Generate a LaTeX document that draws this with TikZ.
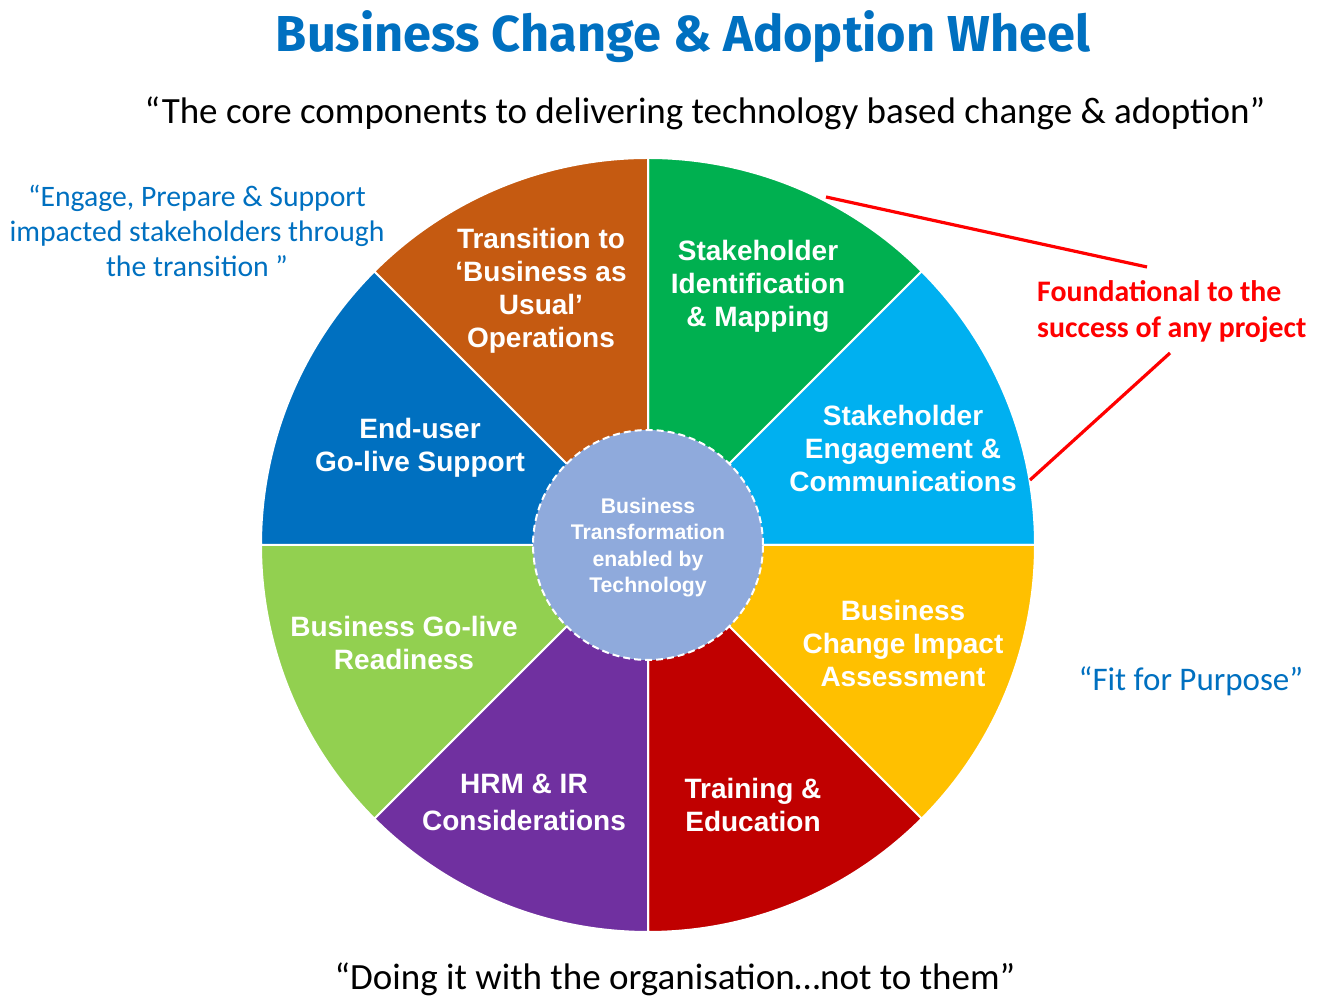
\documentclass[tikz,border=0pt]{standalone}
\usepackage{fontspec}
\setmainfont{Carlito}
\newfontfamily\arialf{Liberation Sans}
\newfontfamily\firaf{Fira Sans}
\definecolor{cgreen}{RGB}{0,176,80}
\definecolor{cltblue}{RGB}{0,176,240}
\definecolor{camber}{RGB}{255,192,0}
\definecolor{cdred}{RGB}{192,0,0}
\definecolor{cpurple}{RGB}{112,48,160}
\definecolor{clgreen}{RGB}{146,208,80}
\definecolor{cblue}{RGB}{0,112,192}
\definecolor{corange}{RGB}{197,90,17}
\definecolor{chub}{RGB}{143,170,220}
\definecolor{cred}{RGB}{255,0,0}
\tikzset{
  seglabel/.style={text=white, align=center, font=\arialf\bfseries\fontsize{28}{33}\selectfont, inner sep=0pt},
  wedge/.style={draw=white, line width=2pt},
  bluequote/.style={text=cblue, align=center, font=\fontsize{29.7}{35}\selectfont, inner sep=0pt},
  blackquote/.style={text=black, align=center, font=\fontsize{37}{42}\selectfont, inner sep=0pt},
  redlink/.style={draw=cred, line width=3.2pt}
}
\begin{document}
\begin{tikzpicture}[x=1pt,y=1pt]
\useasboundingbox (0,0) rectangle (1344,1008);
\coordinate (c) at (648,463);
\def\R{387}
% wedges
\foreach \a/\b/\col in {90/45/cgreen,45/0/cltblue,0/-45/camber,-45/-90/cdred,-90/-135/cpurple,-135/-180/clgreen,180/135/cblue,135/90/corange}{
  \filldraw[wedge, fill=\col] (c) -- ++(\a:\R) arc[start angle=\a, end angle=\b, radius=\R] -- cycle;
}
% hub
\node[circle, minimum size=230pt, fill=chub, draw=white, line width=2pt, dash pattern=on 7pt off 4pt, inner sep=0pt] (hub) at (c) {};
\node[text=white, align=center, font=\arialf\bfseries\fontsize{21.2}{26.5}\selectfont, inner sep=0pt] (hubtext) at (648,460.5) {Business\\Transformation\\enabled by\\Technology};
% segment labels
\node[seglabel] (sim) at (758,722) {Stakeholder\\Identification\\\& Mapping};
\node[seglabel] (sec) at (903,559) {Stakeholder\\Engagement \&\\Communications};
\node[seglabel] (bcia) at (903,364) {Business\\Change Impact\\Assessment};
\node[seglabel] (te) at (753,203) {Training \&\\Education};
\node[seglabel, font=\arialf\bfseries\fontsize{28}{37}\selectfont] (hrm) at (524,206) {HRM \& IR\\Considerations};
\node[seglabel] (bgr) at (404,364.5) {Business Go-live\\Readiness};
\node[seglabel] (egs) at (420,560) {End-user\\Go-live Support};
\node[seglabel] (tbau) at (541,717.5) {Transition to\\‘Business as\\Usual’\\Operations};
% titles
\node[text=cblue, font=\firaf\bfseries\fontsize{50.5}{54}\selectfont, inner sep=0pt] (title) at (683,971) {Business Change \& Adoption Wheel};
\node[blackquote] (sub) at (705,895) {“The core components to delivering technology based change \& adoption”};
\node[blackquote] (bottom) at (675,28.5) {“Doing it with the organisation…not to them”};
\node[bluequote] (leftq) at (197,777) {“Engage, Prepare \& Support\\impacted stakeholders through\\the transition ”};
\node[text=cblue, font=\fontsize{33}{38}\selectfont, inner sep=0pt] (fit) at (1191,327) {“Fit for Purpose”};
\node[text=cred, align=left, anchor=west, font=\bfseries\fontsize{29.8}{36}\selectfont, inner sep=0pt] (found) at (1037,696) {Foundational to the\\success of any project};
% red links
\coordinate (l1a) at (826,811);
\coordinate (l1b) at (1147,741);
\coordinate (l2a) at (1030,528);
\coordinate (l2b) at (1170,655);
\draw[redlink] (l1a) -- (l1b);
\draw[redlink] (l2a) -- (l2b);
\end{tikzpicture}
\end{document}
